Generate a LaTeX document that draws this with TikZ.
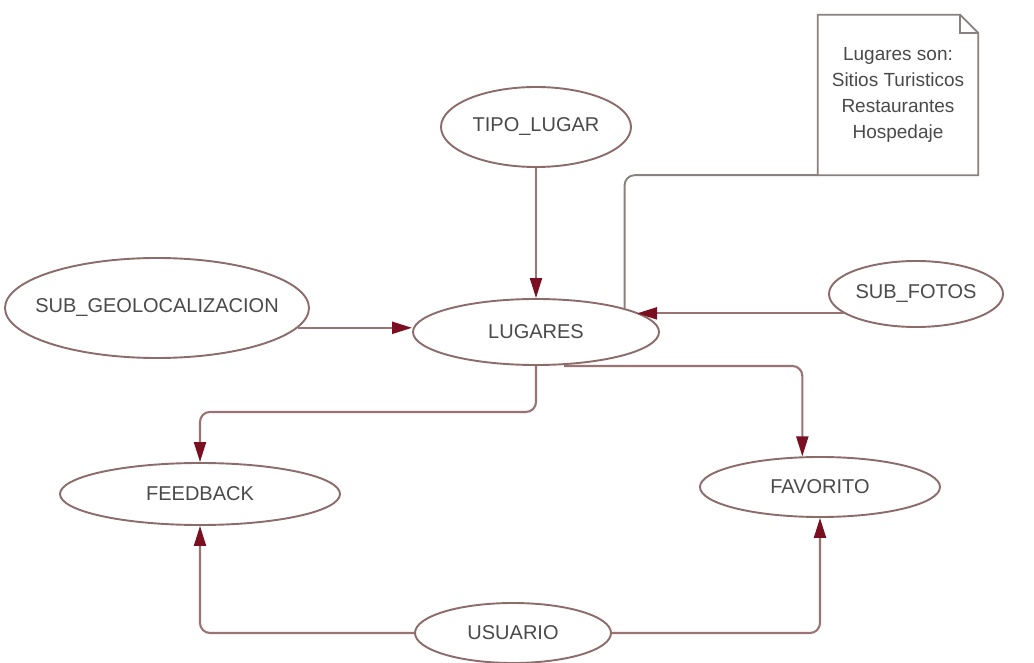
\documentclass[tikz,border=0pt]{standalone}
\usepackage{fontspec}
\setmainfont{Liberation Sans}
\usetikzlibrary{shapes.geometric,arrows.meta,calc}
\definecolor{outl}{HTML}{8C6B6B}
\definecolor{linec}{HTML}{9A7474}
\definecolor{arrc}{HTML}{7A0F22}
\definecolor{txt}{HTML}{4A4A4A}
\definecolor{notec}{HTML}{8A8080}
\newcommand{\entlabel}[1]{\makebox[0pt]{#1}}
\begin{document}
\begin{tikzpicture}[x=1pt,y=-1pt,
  ent/.style={ellipse, draw=outl, line width=1.9pt, inner sep=0pt, text=txt,
    font=\fontsize{20}{22}\selectfont},
  conn/.style={draw=linec, line width=2.1pt, rounded corners=10pt,
    -{Triangle[length=20pt,width=12pt,color=arrc]}},
  notelink/.style={draw=notec, line width=1.9pt, rounded corners=10pt},
  noteline/.style={draw=notec, line width=1.7pt, line join=miter}
]
\useasboundingbox[fill=white] (0,0) rectangle (1034,663);

\node[ent, minimum width=190pt, minimum height=80pt] (tipo) at (536,127) {\entlabel{TIPO\_LUGAR}};
\node[ent, minimum width=304pt, minimum height=100pt] (geo) at (157,308) {\entlabel{SUB\_GEOLOCALIZACION}};
\node[ent, minimum width=246pt, minimum height=66pt] (lug) at (536,332) {\entlabel{LUGARES}};
\node[ent, minimum width=174pt, minimum height=66pt] (fotos) at (916,294) {\entlabel{SUB\_FOTOS}};
\node[ent, minimum width=280pt, minimum height=62pt] (fb) at (200,494) {\entlabel{FEEDBACK}};
\node[ent, minimum width=240pt, minimum height=60pt] (fav) at (820,487) {\entlabel{FAVORITO}};
\node[ent, minimum width=196pt, minimum height=60pt] (usr) at (513,633) {\entlabel{USUARIO}};

% note
\node[minimum width=160pt, minimum height=160pt, inner sep=0pt, align=center, text=txt,
  font=\fontsize{19}{26}\selectfont] (note) at (898,95)
  {Lugares son:\\Sitios Turisticos\\Restaurantes\\Hospedaje};
\draw[noteline] (note.south west) -- (note.north west) -- ($(note.north east)+(-18,0)$)
  -- ($(note.north east)+(0,18)$) -- (note.south east) -- cycle;
\draw[noteline] ($(note.north east)+(-18,0)$) -- ($(note.north east)+(-18,18)$)
  -- ($(note.north east)+(0,18)$);

% connectors
\draw[notelink] (note.south west) -| (lug.15);
\draw[conn] (tipo.south) -- (lug.north);
\draw[conn] (geo.-8) -- (geo.-8 -| lug.west);
\draw[conn] (fotos.195) -- (fotos.195 -| lug.11);
\draw[conn] (lug.south) -- ++(0,46) -| (fb.north);
\draw[conn] ($(lug.south)+(28,0)$) -| (fav.120);
\draw[conn] (usr.west) -| (fb.south);
\draw[conn] (usr.east) -| (fav.south);
\end{tikzpicture}
\end{document}
